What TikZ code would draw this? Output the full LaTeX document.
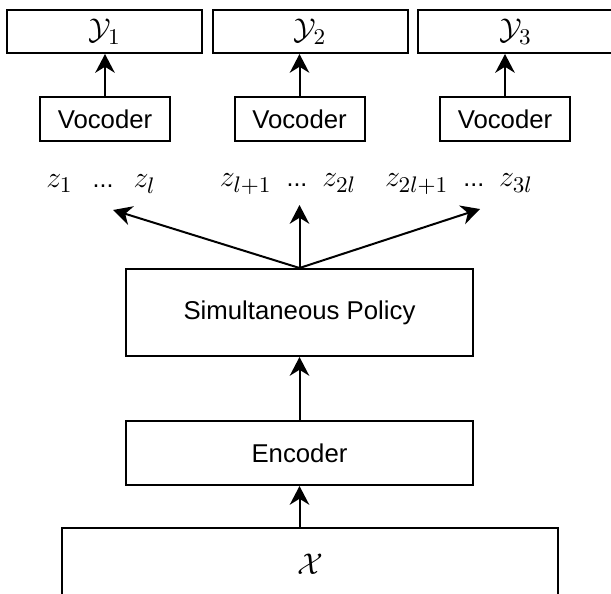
\documentclass[tikz,border=0pt]{standalone}
\usepackage{fontspec}
\setsansfont{Liberation Sans}
\usetikzlibrary{arrows.meta}

\tikzset{
  block/.style={draw, line width=0.8pt, inner sep=0pt,
    font=\sffamily\fontsize{10.3pt}{12pt}\selectfont},
  mathbox/.style={block, font=\fontsize{13pt}{15pt}\selectfont},
  outbox/.style={mathbox, minimum width=78pt, minimum height=17.2pt},
  vocbox/.style={block, minimum width=52pt, minimum height=17.6pt},
  widebox/.style={block, minimum width=138.8pt},
  zrow/.style={font=\fontsize{12.3pt}{14pt}\selectfont, inner sep=0pt},
  arr/.style={-{Stealth[length=7.5pt,width=7.8pt,inset=2.4pt]}, line width=0.8pt}
}

\begin{document}
\begin{tikzpicture}[x=0.4pt, y=-0.4pt]
      \useasboundingbox (0,0) rectangle (611,593);
      \draw
        (104.5,31.5) node[outbox] (y1){$\mathcal{Y}_1$}
        (310,31.5) node[outbox] (y2){$\mathcal{Y}_2$}
        (515.5,31.5) node[outbox] (y3){$\mathcal{Y}_3$}
        (105,119) node[vocbox] (voc1){Vocoder}
        (299.5,119) node[vocbox] (voc2){Vocoder}
        (505,119) node[vocbox] (voc3){Vocoder}
        (101,184) node[zrow] (za){$z_1$\hspace{8pt}{\sffamily\fontsize{10pt}{12pt}\selectfont...}\hspace{8pt}$z_l$}
        (288,184) node[zrow] (zb){$z_{l+1}$\hspace{6pt}{\sffamily\fontsize{10pt}{12pt}\selectfont...}\hspace{6pt}$z_{2l}$}
        (459,184) node[zrow] (zc){$z_{2l+1}$\hspace{6pt}{\sffamily\fontsize{10pt}{12pt}\selectfont...}\hspace{6pt}$z_{3l}$}
        (299.5,312.5) node[widebox, minimum height=34.8pt] (policy){Simultaneous Policy}
        (299.5,453) node[widebox, minimum height=25.6pt] (enc){Encoder}
        (310,564) node[mathbox, minimum width=198.4pt, minimum height=28.8pt] (x){$\mathcal{X}$};
      \coordinate (ta) at (113,210);
      \coordinate (tb) at (299.5,205);
      \coordinate (tc) at (480,209);
      \begin{scope}[arr]
        \draw (voc1) to (y1.south -| voc1);
        \draw (voc2) to (y2.south -| voc2);
        \draw (voc3) to (y3.south -| voc3);
        \draw (policy.north) to (ta);
        \draw (policy.north) to (tb);
        \draw (policy.north) to (tc);
        \draw (enc) to (policy);
        \draw (x.north -| enc) to (enc);
      \end{scope}
    \end{tikzpicture}
\end{document}
